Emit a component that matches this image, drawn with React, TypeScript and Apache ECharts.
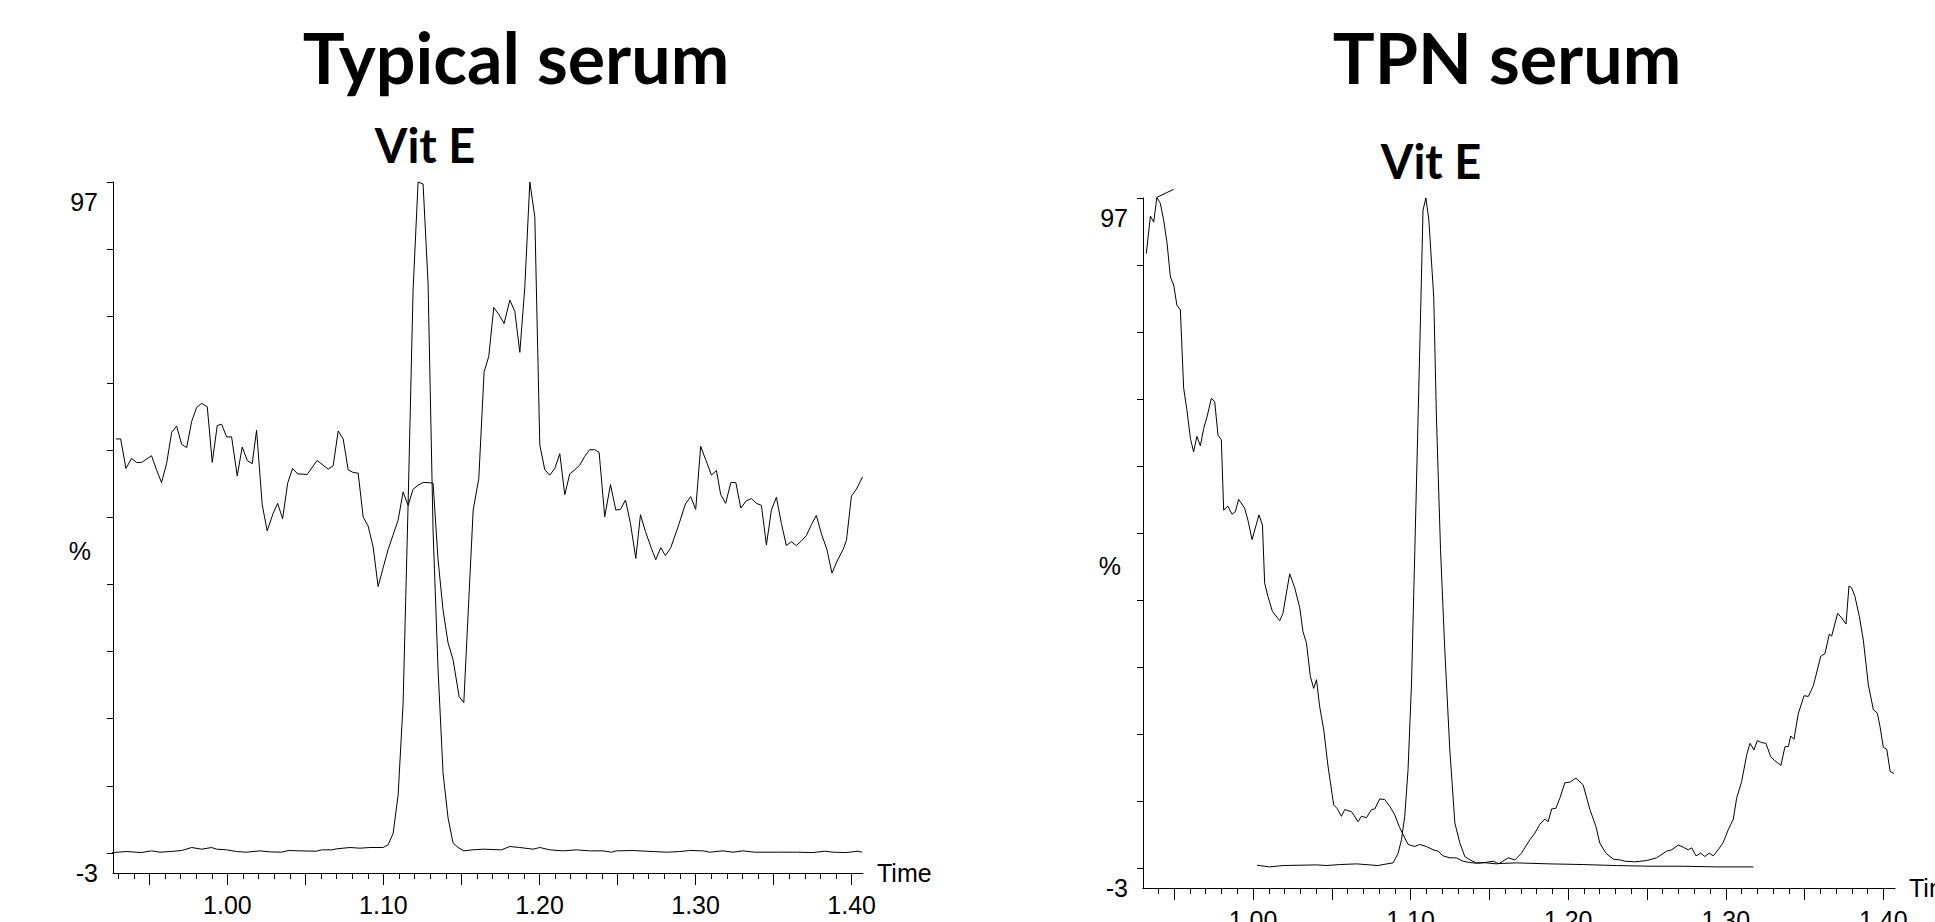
import React, { useEffect, useRef } from "react";
import * as echarts from "echarts";

// ---------- Data ----------
// Typical serum: matrix / interference trace  [time (min), intensity (%)]
const typicalMatrixTrace: [number, number][] = [
  [0.9286, 61.7], [0.9316, 61.7], [0.935, 57.3], [0.9386, 58.8], [0.9418, 58.2], [0.945, 58.2],
  [0.9514, 59.2], [0.9546, 57.1], [0.9578, 55.2], [0.9611, 58.1], [0.9643, 62.7], [0.9675, 63.6],
  [0.9707, 60.9], [0.9739, 60.4], [0.9771, 64.3], [0.9803, 66.4], [0.9835, 67.0], [0.9871, 66.5],
  [0.9903, 58.2], [0.9935, 63.7], [0.9963, 63.9], [0.9995, 62.0], [1.0027, 62.0], [1.0063, 56.2],
  [1.0095, 60.5], [1.0127, 58.5], [1.0159, 58.0], [1.0187, 63.0], [1.0223, 51.9], [1.0255, 48.0],
  [1.0293, 50.6], [1.0322, 52.1], [1.0354, 49.8], [1.0386, 55.1], [1.0418, 57.3], [1.045, 56.5],
  [1.0511, 56.4], [1.0575, 58.5], [1.0646, 57.2], [1.0678, 57.7], [1.071, 62.9], [1.0742, 61.7],
  [1.0774, 57.1], [1.0806, 56.7], [1.0838, 56.6], [1.087, 50.1], [1.0902, 48.7], [1.0934, 45.6],
  [1.0966, 39.7], [1.0998, 42.5], [1.103, 45.2], [1.1062, 47.4], [1.1094, 49.6], [1.1126, 53.8],
  [1.1158, 51.8], [1.119, 54.2], [1.1222, 54.8], [1.1254, 55.2], [1.1286, 55.2], [1.1318, 55.1],
  [1.135, 43.7], [1.1382, 36.2], [1.1414, 31.3], [1.1446, 28.8], [1.1485, 23.3], [1.1515, 22.4],
  [1.1575, 51.1], [1.1611, 55.8], [1.1645, 71.7], [1.1675, 74.0], [1.1707, 81.3], [1.1741, 80.2],
  [1.1773, 78.9], [1.181, 82.4], [1.1842, 80.7], [1.1874, 74.6], [1.1906, 84.4], [1.1938, 100.0],
  [1.197, 94.8], [1.2002, 60.8], [1.2034, 57.1], [1.2066, 56.3], [1.2098, 57.3], [1.213, 59.5],
  [1.2162, 53.4], [1.2194, 56.5], [1.2226, 57.1], [1.2258, 57.8], [1.229, 59.1], [1.2322, 60.1],
  [1.2354, 60.1], [1.2382, 59.7], [1.2418, 50.1], [1.2455, 54.9], [1.2489, 51.1], [1.2519, 51.2],
  [1.2551, 52.6], [1.2583, 49.1], [1.2617, 43.9], [1.2647, 50.4], [1.2679, 47.9], [1.2717, 45.4],
  [1.2745, 43.7], [1.2777, 45.5], [1.2807, 44.3], [1.2841, 45.5], [1.2888, 48.6], [1.2935, 52.0],
  [1.2969, 53.1], [1.3001, 51.2], [1.3033, 60.6], [1.3065, 58.6], [1.3102, 56.3], [1.3134, 57.0],
  [1.3161, 53.4], [1.3193, 52.1], [1.3226, 55.2], [1.3258, 55.2], [1.329, 51.4], [1.3326, 52.5],
  [1.3358, 52.8], [1.339, 52.1], [1.3422, 51.8], [1.3454, 45.9], [1.3486, 51.1], [1.3518, 53.0],
  [1.355, 49.1], [1.3582, 45.8], [1.3614, 46.4], [1.3646, 45.8], [1.3678, 46.5], [1.371, 47.3],
  [1.3742, 48.9], [1.3774, 50.3], [1.3806, 47.6], [1.3842, 45.2], [1.3874, 41.7], [1.3907, 43.5],
  [1.3945, 45.2], [1.3967, 46.6], [1.3999, 53.2], [1.4031, 54.2], [1.4069, 56.0],
];

// Typical serum: Vit E channel
const typicalVitETrace: [number, number][] = [
  [0.919, 0.05], [0.9268, 0.05], [0.9354, 0.2], [0.945, 0.05], [0.9514, 0.3], [0.9568, 0.1],
  [0.9632, 0.2], [0.9707, 0.35], [0.9771, 0.8], [0.9835, 0.55], [0.9899, 0.8], [0.9931, 0.55],
  [0.9995, 0.45], [1.0059, 0.2], [1.0123, 0.1], [1.0208, 0.3], [1.0272, 0.15], [1.0347, 0.1],
  [1.039, 0.35], [1.0464, 0.3], [1.0571, 0.25], [1.0603, 0.45], [1.0668, 0.45], [1.07, 0.6],
  [1.0785, 0.8], [1.0849, 0.7], [1.0913, 0.8], [1.0998, 0.8], [1.103, 1.2], [1.1062, 2.9],
  [1.1094, 8.6], [1.1126, 22.3], [1.1158, 52.0], [1.119, 83.9], [1.1222, 100.0], [1.1254, 99.7],
  [1.1286, 84.9], [1.1318, 48.0], [1.135, 27.3], [1.1382, 11.9], [1.1414, 5.2], [1.1446, 1.5],
  [1.1478, 0.8], [1.1515, 0.3], [1.1569, 0.45], [1.1639, 0.55], [1.1757, 0.45], [1.181, 0.95],
  [1.1874, 0.8], [1.1959, 0.55], [1.2002, 0.8], [1.2066, 0.45], [1.2151, 0.3], [1.2237, 0.45],
  [1.2322, 0.3], [1.2407, 0.3], [1.2461, 0.1], [1.2493, 0.3], [1.26, 0.35], [1.2728, 0.2],
  [1.2814, 0.1], [1.2899, 0.2], [1.2963, 0.35], [1.3048, 0.3], [1.3091, 0.1], [1.3176, 0.3],
  [1.324, 0.1], [1.3304, 0.3], [1.3379, 0.1], [1.3518, 0.1], [1.3646, 0.1], [1.3753, 0.05],
  [1.3828, 0.25], [1.3881, 0.1], [1.3967, 0.05], [1.4041, 0.25], [1.4067, 0.1],
];

// TPN serum: matrix / interference trace
const tpnMatrixTrace: [number, number][] = [
  [0.9323, 91.7], [0.9349, 97.3], [0.937, 96.4], [0.939, 100.1], [0.9412, 99.2], [0.9433, 96.7],
  [0.9454, 93.4], [0.9476, 88.2], [0.9497, 87.0], [0.9517, 84.0], [0.9539, 83.3], [0.956, 71.6],
  [0.9581, 68.3], [0.9603, 64.1], [0.9623, 62.1], [0.9644, 64.4], [0.9666, 63.0], [0.9687, 65.6],
  [0.9708, 67.3], [0.9736, 70.1], [0.9757, 69.6], [0.9778, 64.6], [0.9799, 63.9], [0.9814, 53.4],
  [0.9841, 54.0], [0.9867, 52.8], [0.9888, 53.2], [0.9909, 55.0], [0.9947, 53.7], [0.9968, 51.9],
  [0.9994, 49.0], [1.0038, 52.7], [1.006, 51.2], [1.0074, 42.5], [1.0095, 40.5], [1.0123, 38.3],
  [1.017, 36.9], [1.019, 38.0], [1.0233, 43.9], [1.0265, 41.8], [1.0297, 38.8], [1.0317, 35.3],
  [1.0339, 33.6], [1.0364, 28.6], [1.0385, 26.8], [1.0403, 28.1], [1.0423, 24.1], [1.0449, 20.6],
  [1.0476, 15.2], [1.0512, 9.4], [1.0533, 8.9], [1.0561, 7.7], [1.0582, 8.7], [1.0625, 8.4],
  [1.0667, 6.9], [1.0688, 7.7], [1.072, 7.5], [1.0752, 8.7], [1.0773, 8.8], [1.0804, 10.3],
  [1.0836, 10.2], [1.0868, 9.2], [1.09, 7.9], [1.0931, 6.0], [1.0984, 3.5], [1.1027, 3.2],
  [1.1058, 3.5], [1.1101, 3.2], [1.1143, 2.7], [1.1175, 2.5], [1.1206, 1.8], [1.1249, 1.5],
  [1.1291, 1.5], [1.1333, 1.0], [1.1376, 0.8], [1.1418, 0.7], [1.146, 0.8], [1.1503, 0.7],
  [1.1545, 0.6], [1.1566, 0.7], [1.1619, 1.5], [1.1662, 1.2], [1.1704, 2.2], [1.1757, 4.2],
  [1.1789, 5.2], [1.182, 6.5], [1.1852, 7.3], [1.1873, 6.9], [1.1895, 8.8], [1.1922, 8.9],
  [1.1947, 10.4], [1.1979, 12.7], [1.2011, 12.8], [1.2049, 13.4], [1.2095, 12.4], [1.2138, 8.7],
  [1.2176, 6.2], [1.2201, 3.7], [1.2239, 2.2], [1.2286, 1.3], [1.2328, 1.2], [1.236, 1.0],
  [1.2423, 0.9], [1.2498, 1.1], [1.2561, 1.5], [1.2625, 2.5], [1.2657, 2.7], [1.2698, 3.4],
  [1.273, 3.1], [1.2762, 2.7], [1.2784, 3.0], [1.2811, 1.8], [1.2841, 2.2], [1.2868, 1.7],
  [1.2895, 2.2], [1.2921, 1.8], [1.2952, 2.7], [1.2984, 3.8], [1.3016, 5.7], [1.3048, 7.3],
  [1.3069, 10.4], [1.3101, 12.9], [1.3133, 16.9], [1.3154, 18.6], [1.3179, 17.6], [1.32, 19.0],
  [1.3228, 18.7], [1.3255, 18.6], [1.3285, 16.6], [1.3312, 16.0], [1.335, 15.3], [1.3376, 18.1],
  [1.3397, 18.1], [1.3412, 19.7], [1.3433, 19.2], [1.346, 23.0], [1.3497, 25.7], [1.3524, 25.6],
  [1.3556, 27.2], [1.3603, 31.6], [1.363, 32.0], [1.3657, 34.9], [1.3672, 34.6], [1.371, 38.0],
  [1.3736, 37.3], [1.3763, 36.4], [1.3782, 42.1], [1.3799, 41.8], [1.382, 40.5], [1.3848, 37.5],
  [1.3873, 34.0], [1.3905, 27.3], [1.3937, 23.6], [1.3962, 23.1], [1.3979, 21.1], [1.4, 18.0],
  [1.4022, 17.7], [1.4043, 14.4], [1.4068, 14.1],
];

// TPN serum: short overshoot segment at the top-left
const tpnEdgeTrace: [number, number][] = [
  [0.939, 100.1], [0.9497, 101.3],
];

// TPN serum: Vit E channel
const tpnVitETrace: [number, number][] = [
  [1.0025, 0.4], [1.0106, 0.15], [1.019, 0.35], [1.0403, 0.45], [1.0466, 0.35], [1.055, 0.5],
  [1.0657, 0.6], [1.0741, 0.45], [1.0794, 0.35], [1.0825, 0.5], [1.0889, 0.75], [1.0921, 2.2],
  [1.0942, 4.2], [1.0963, 7.7], [1.0984, 14.7], [1.1006, 27.6], [1.1027, 47.5], [1.1058, 77.3],
  [1.1079, 98.2], [1.1097, 100.0], [1.1116, 96.7], [1.1147, 85.2], [1.1164, 67.3], [1.119, 47.5],
  [1.1217, 32.6], [1.1249, 17.6], [1.1281, 6.7], [1.1313, 3.7], [1.1344, 1.7], [1.1376, 1.2],
  [1.1418, 0.75], [1.146, 0.75], [1.1524, 1.0], [1.1556, 0.65], [1.1672, 0.75], [1.1884, 0.6],
  [1.2095, 0.5], [1.2307, 0.35], [1.2519, 0.25], [1.273, 0.25], [1.2942, 0.15], [1.3175, 0.15],
];

// Axis ticks & labels
const xLabelValues = [1.0, 1.1, 1.2, 1.3, 1.4];
const xMajorTicks = [0.95, 1.0, 1.05, 1.1, 1.15, 1.2, 1.25, 1.3, 1.35, 1.4];
const xMinorTicks = Array.from({ length: 48 }, (_, i) => Math.round((0.93 + i * 0.01) * 100) / 100);
const yTicks = [0, 10, 20, 30, 40, 50, 60, 70, 80, 90, 100];
const yLabelValues = [-3, 45, 97];
const panelTitles = ["Typical serum", "TPN serum"];
const peakLabel = "Vit E";
const xAxisName = "Time";

const AXIS_FONT = "'Liberation Sans', Arial, sans-serif";
const TITLE_FONT = "Lato, 'Open Sans', sans-serif";
const INK = "#000";

function xAxes(gridIndex: number, min: number, max: number) {
  return [
    {
      type: "value",
      gridIndex,
      min,
      max,
      position: "bottom",
      axisLine: { show: true, onZero: false, lineStyle: { color: INK, width: 1 } },
      axisTick: { show: true, customValues: xMinorTicks, length: 6, lineStyle: { color: INK, width: 1 } },
      axisLabel: {
        show: true,
        customValues: xLabelValues,
        formatter: (v: number) => v.toFixed(2),
        fontSize: 25,
        fontFamily: AXIS_FONT,
        color: INK,
        margin: 19,
      },
      splitLine: { show: false },
      name: xAxisName,
      nameLocation: "end",
      nameGap: 14,
      nameTextStyle: { fontSize: 25, fontFamily: AXIS_FONT, color: INK },
    },
    {
      type: "value",
      gridIndex,
      min,
      max,
      position: "bottom",
      axisLine: { show: false, onZero: false },
      axisTick: { show: true, customValues: xMajorTicks, length: 12, lineStyle: { color: INK, width: 1 } },
      axisLabel: { show: false },
      splitLine: { show: false },
    },
  ];
}

function yAxis(gridIndex: number) {
  return {
    type: "value",
    gridIndex,
    min: -3,
    max: 100,
    axisLine: { show: true, onZero: false, lineStyle: { color: INK, width: 1 } },
    axisTick: { show: true, customValues: yTicks, length: 6, lineStyle: { color: INK, width: 1 } },
    axisLabel: {
      show: true,
      customValues: yLabelValues,
      formatter: (v: number) => (v === 45 ? "{p|%}" : String(v)),
      fontSize: 25,
      fontFamily: AXIS_FONT,
      color: INK,
      margin: 15,
      rich: { p: { fontSize: 25, fontFamily: AXIS_FONT, color: INK, padding: [0, 7, 0, 0] } },
    },
    splitLine: { show: false },
  };
}

function lineSeries(data: [number, number][], xAxisIndex: number, yAxisIndex: number) {
  return {
    type: "line",
    data,
    xAxisIndex,
    yAxisIndex,
    symbol: "none",
    showSymbol: false,
    clip: false,
    silent: true,
    lineStyle: { color: INK, width: 1 },
  };
}

export default function App() {
  const ref = useRef<HTMLDivElement>(null);

  useEffect(() => {
    document.body.style.margin = "0";
    document.body.style.overflow = "hidden";
    if (!ref.current) return;
    const chart = echarts.init(ref.current, null, { renderer: "svg" });

    const titleText = (text: string, x: number, y: number, size: number) => ({
      type: "text",
      x,
      y,
      silent: true,
      style: {
        text,
        fill: INK,
        font: `bold ${size}px ${TITLE_FONT}`,
        align: "center",
        verticalAlign: "middle",
      },
    });

    chart.setOption({
      animation: false,
      backgroundColor: "#fff",
      grid: [
        { left: 113, top: 182, width: 750, height: 691, containLabel: false, outerBoundsMode: "none" },
        { left: 1143, top: 198, width: 752, height: 690, containLabel: false, outerBoundsMode: "none" },
      ],
      xAxis: [...xAxes(0, 0.9267, 1.4073), ...xAxes(1, 0.9302, 1.4074)],
      yAxis: [yAxis(0), yAxis(1)],
      series: [
        lineSeries(typicalMatrixTrace, 0, 0),
        lineSeries(typicalVitETrace, 0, 0),
        lineSeries(tpnMatrixTrace, 2, 1),
        lineSeries(tpnEdgeTrace, 2, 1),
        lineSeries(tpnVitETrace, 2, 1),
      ],
      graphic: [
        titleText(panelTitles[0], 516, 57, 70),
        titleText(panelTitles[1], 1507, 57, 70),
        titleText(peakLabel, 425, 145, 47),
        titleText(peakLabel, 1431, 161, 47),
      ],
    });

    return () => chart.dispose();
  }, []);

  return <div ref={ref} style={{ width: 1935, height: 922 }} />;
}
